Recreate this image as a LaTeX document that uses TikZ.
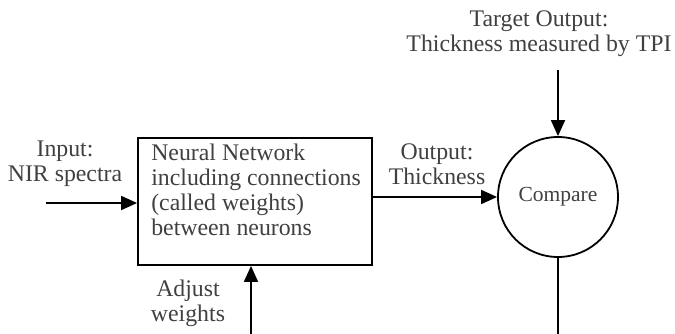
\documentclass[tikz,border=0pt]{standalone}
\usepackage{fontspec}
\setmainfont{Liberation Serif}
\usetikzlibrary{arrows.meta,positioning}
\tikzset{
  nnbox/.style={rectangle, draw, line width=1.8pt, minimum width=234pt,
                minimum height=127pt},
  cmp/.style={circle, draw, line width=1.8pt, minimum size=120pt,
              font=\fontsize{21.5}{24}\selectfont, text=black!75},
  lbl/.style={font=\fontsize{23.8}{25}\selectfont, align=center,
              text=black!75, inner sep=0pt},
  arrow/.style={-{Triangle[length=16pt,width=14pt]}, line width=1.8pt}
}

\begin{document}
\begin{tikzpicture}[x=1pt, y=-1pt]
  \useasboundingbox (0,0) rectangle (675,334);
  \node[nnbox] (nn) at (255,201.5) {};
  \node[lbl, align=left, anchor=north west] (nntxt) at ([xshift=14pt, yshift=-7pt]nn.north west)
    {Neural Network\\including connections\\(called weights)\\between neurons};
  \node[cmp] (cmp) at (558,197) {Compare};
  \node[lbl] (inlbl) at (65,164) {Input:\\NIR spectra};
  \node[lbl] (outlbl) at (437,164) {Output:\\Thickness};
  \node[lbl] (tgtlbl) at (539,34) {Target Output:\\Thickness measured by TPI};
  \node[lbl] (adjlbl) at (188,303) {Adjust\\weights};
  \coordinate (in) at (46,203);
  \coordinate (tgt) at (558,70);
  \coordinate (fb1) at (558,334);
  \coordinate (fb2) at (251,334);
  \draw[arrow] (in) -- (in -| nn.west);
  \draw[arrow] (nn.east |- cmp) -- (cmp);
  \draw[arrow] (tgt) -- (cmp);
  \draw[line width=1.8pt] (cmp.south) -- (fb1);
  \draw[arrow] (fb2) -- (fb2 |- nn.south);
\end{tikzpicture}
\end{document}
